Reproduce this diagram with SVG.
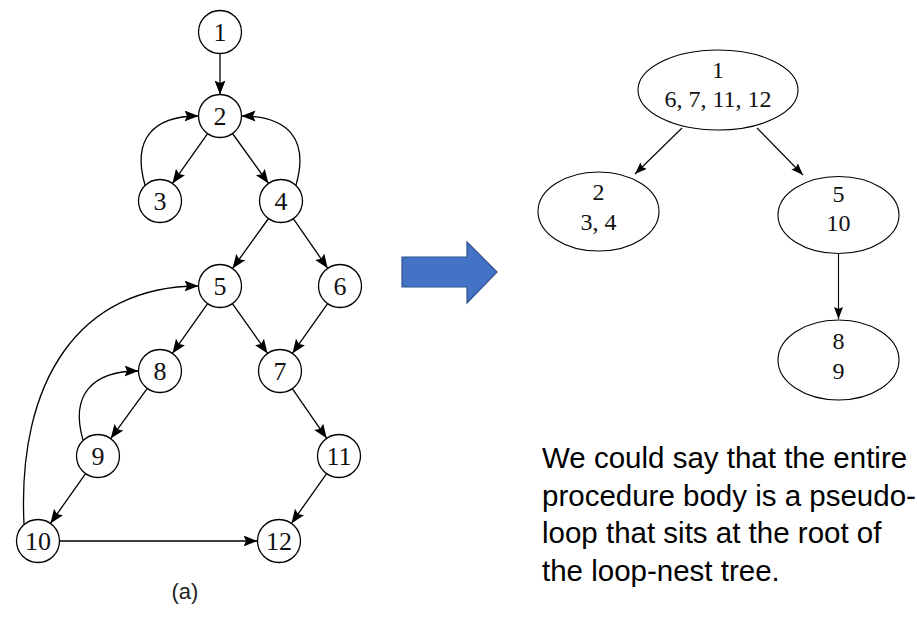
<svg xmlns="http://www.w3.org/2000/svg" width="917" height="617" viewBox="0 0 917 617">
<defs>
<style>
.n circle{fill:#fff;stroke:#000;stroke-width:1.3}
.n text{font-family:"Liberation Serif","Times New Roman",serif;font-size:26px;fill:#111;text-anchor:middle}
.t text{font-family:"Liberation Serif","Times New Roman",serif;font-size:24px;fill:#111;text-anchor:middle}
.t ellipse{fill:#fff;stroke:#000;stroke-width:1.1}
.e path,.e line{fill:none;stroke:#000;stroke-width:1.3}
.te line{stroke:#000;stroke-width:1.1}
.cap{font-family:"Liberation Sans",Arial,sans-serif;font-size:22px;fill:#222;text-anchor:middle}
.body{font-family:"Liberation Sans",Arial,sans-serif;font-size:29.5px;fill:#000}
</style>
<marker id="ah" markerUnits="userSpaceOnUse" markerWidth="16" markerHeight="12" refX="14" refY="5.5" orient="auto">
<path d="M0,0 L14,5.5 L0,11 L2.5,5.5 z" fill="#000"/>
</marker>
<marker id="ah2" markerUnits="userSpaceOnUse" markerWidth="14" markerHeight="10" refX="12" refY="4.5" orient="auto">
<path d="M0,0 L12,4.5 L0,9 L2,4.5 z" fill="#000"/>
</marker>
</defs>
<rect width="917" height="617" fill="#fff"/>

<g id="connectors" class="e">
<line x1="220" y1="53.5" x2="220" y2="94.5" marker-end="url(#ah)"/>
<line x1="207.6" y1="133.6" x2="172.4" y2="183.4" marker-end="url(#ah)"/>
<line x1="232.5" y1="133.5" x2="268.5" y2="183.5" marker-end="url(#ah)"/>
<line x1="268.5" y1="218.5" x2="232.5" y2="268.5" marker-end="url(#ah)"/>
<line x1="293.3" y1="218.7" x2="327.7" y2="268.3" marker-end="url(#ah)"/>
<line x1="207.6" y1="303.6" x2="172.4" y2="353.4" marker-end="url(#ah)"/>
<line x1="232.4" y1="303.6" x2="267.6" y2="353.4" marker-end="url(#ah)"/>
<line x1="327.6" y1="303.6" x2="292.4" y2="353.4" marker-end="url(#ah)"/>
<line x1="147.3" y1="388.4" x2="110.7" y2="438.6" marker-end="url(#ah)"/>
<line x1="292.3" y1="388.7" x2="326.7" y2="438.3" marker-end="url(#ah)"/>
<line x1="85.6" y1="473.6" x2="50.4" y2="523.4" marker-end="url(#ah)"/>
<line x1="326.6" y1="473.6" x2="291.4" y2="523.4" marker-end="url(#ah)"/>
<line x1="59.5" y1="541" x2="257.5" y2="541" marker-end="url(#ah)"/>
<path d="M24,524 C17,380 80,286 198.5,286" marker-end="url(#ah)"/>
<path d="M83,440 C70,395 92,371 138.5,371" marker-end="url(#ah)"/>
<path d="M145,185 C132,140 152,116 198.5,116" marker-end="url(#ah)"/>
<path d="M296,185 C309,140 289,116 241.5,116" marker-end="url(#ah)"/>
</g>

<g id="tree-connectors" class="te">
<line x1="682" y1="128" x2="635" y2="174" marker-end="url(#ah2)"/>
<line x1="757" y1="128" x2="803" y2="175" marker-end="url(#ah2)"/>
<line x1="838.5" y1="253.5" x2="838.5" y2="319" marker-end="url(#ah2)"/>
</g>

<g id="n1" class="n"><circle cx="220" cy="32" r="21.5"/><text x="220" y="41">1</text></g>
<g id="n2" class="n"><circle cx="220" cy="116" r="21.5"/><text x="220" y="125">2</text></g>
<g id="n3" class="n"><circle cx="160" cy="201" r="21.5"/><text x="160" y="210">3</text></g>
<g id="n4" class="n"><circle cx="281" cy="201" r="21.5"/><text x="281" y="210">4</text></g>
<g id="n5" class="n"><circle cx="220" cy="286" r="21.5"/><text x="220" y="295">5</text></g>
<g id="n6" class="n"><circle cx="340" cy="286" r="21.5"/><text x="340" y="295">6</text></g>
<g id="n8" class="n"><circle cx="160" cy="371" r="21.5"/><text x="160" y="380">8</text></g>
<g id="n7" class="n"><circle cx="280" cy="371" r="21.5"/><text x="280" y="380">7</text></g>
<g id="n9" class="n"><circle cx="98" cy="456" r="21.5"/><text x="98" y="465">9</text></g>
<g id="n11" class="n"><circle cx="339" cy="456" r="21.5"/><text x="339" y="465">11</text></g>
<g id="n10" class="n"><circle cx="38" cy="541" r="21.5"/><text x="38" y="550">10</text></g>
<g id="n12" class="n"><circle cx="279" cy="541" r="21.5"/><text x="279" y="550">12</text></g>

<text class="cap" x="185" y="599">(a)</text>

<g id="bigarrow">
<polygon points="402,257 467,257 467,242 497,272 467,303 467,287 402,287" fill="#4472C4" stroke="#2F528F" stroke-width="1.2"/>
</g>

<g id="t1" class="t"><ellipse cx="718" cy="90" rx="80" ry="40"/><text x="718" y="78">1</text><text x="718" y="107">6, 7, 11, 12</text></g>
<g id="t2" class="t"><ellipse cx="598.5" cy="211.5" rx="60.5" ry="39.5"/><text x="598.5" y="200">2</text><text x="598.5" y="230">3, 4</text></g>
<g id="t5" class="t"><ellipse cx="838.5" cy="215" rx="60.5" ry="38.5"/><text x="838.5" y="202">5</text><text x="838.5" y="231">10</text></g>
<g id="t8" class="t"><ellipse cx="838.5" cy="360" rx="60.5" ry="40"/><text x="838.5" y="349">8</text><text x="838.5" y="379">9</text></g>

<g id="note" class="body">
<text x="542" y="468">We could say that the entire</text>
<text x="542" y="505.5">procedure body is a pseudo-</text>
<text x="542" y="543">loop that sits at the root of</text>
<text x="542" y="580.5">the loop-nest tree.</text>
</g>
</svg>
